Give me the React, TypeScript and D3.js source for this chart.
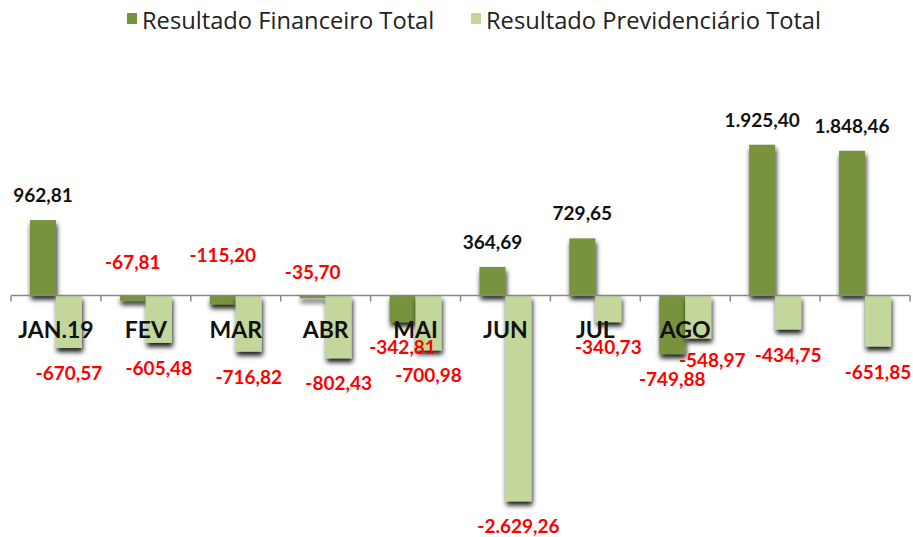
import React, { useEffect, useRef } from "react";
import * as d3 from "d3";

const categories = ["JAN.19", "FEV", "MAR", "ABR", "MAI", "JUN", "JUL", "AGO", "SET", "OUT"];
const categoryLabels = ["JAN.19", "FEV", "MAR", "ABR", "MAI", "JUN", "JUL", "AGO", "", ""];
const financeiro = [962.81, -67.81, -115.2, -35.7, -342.81, 364.69, 729.65, -749.88, 1925.4, 1848.46];
const previdenciario = [-670.57, -605.48, -716.82, -802.43, -700.98, -2629.26, -340.73, -548.97, -434.75, -651.85];
const seriesNames = ["Resultado Financeiro Total", "Resultado Previdenciário Total"];

// manual label nudges (Excel labels moved by hand): [dx, dy] in px
const finNudge: [number, number][] = [[0, 0], [0, -64], [0, -75], [0, -51], [0, 0], [0, 0], [0, 0], [0, 0], [0, 0], [0, 0]];
const prevNudge: [number, number][] = [[0, 0], [0, 0], [0, 0], [0, 0], [0, 0], [0, 0], [0, 0], [14, -3], [0, 0], [0, 0]];

const W = 913;
const H = 537;
const DARK = "#77933C";
const LIGHT = "#C3D69B";
const FONT = "Lato, 'Open Sans', sans-serif";

const ptBR = d3.formatLocale({
  decimal: ",",
  thousands: ".",
  grouping: [3],
  currency: ["R$", ""],
  minus: "-",
});
const fmt = ptBR.format(",.2f");

export default function App() {
  const ref = useRef<SVGSVGElement>(null);
  useEffect(() => {
    document.body.style.margin = "0";
    const svg = d3.select(ref.current);
    svg.selectAll("*").remove();

    const defs = svg.append("defs");
    const f = defs.append("filter").attr("id", "sh").attr("x", "-50%").attr("y", "-50%").attr("width", "200%").attr("height", "200%");
    f.append("feDropShadow").attr("dx", 1).attr("dy", 4).attr("stdDeviation", 2.5).attr("flood-color", "#000").attr("flood-opacity", 0.9);

    const x0 = d3.scaleBand<string>().domain(categories).range([11, 910]).paddingInner(0).paddingOuter(0);
    const x1 = d3.scaleBand<string>().domain(["fin", "prev"]).range([0, x0.bandwidth()]).paddingInner(0).paddingOuter(0.73);
    const y = d3.scaleLinear().domain([-3000, 2500]).range([530.4, 99.75]);

    const series = [
      { key: "fin", values: financeiro, color: DARK, nudge: finNudge },
      { key: "prev", values: previdenciario, color: LIGHT, nudge: prevNudge },
    ];

    const gBars = svg.append("g");
    series.forEach((s) => {
      gBars
        .append("g")
        .attr("filter", "url(#sh)")
        .selectAll("rect")
        .data(s.values)
        .join("rect")
        .attr("x", (_, i) => (x0(categories[i]) as number) + (x1(s.key) as number))
        .attr("width", x1.bandwidth())
        .attr("y", (d) => y(Math.max(0, d)))
        .attr("height", (d) => Math.abs(y(d) - y(0)))
        .attr("fill", s.color);
    });

    // axis
    const ax = svg.append("g");
    ax.append("line").attr("x1", 11).attr("x2", 910).attr("y1", y(0)).attr("y2", y(0)).attr("stroke", "#888").attr("stroke-width", 1.5);
    const tickXs = categories.map((c) => x0(c) as number).concat([910]);
    ax.selectAll("line.t")
      .data(tickXs)
      .join("line")
      .attr("class", "t")
      .attr("x1", (d) => d)
      .attr("x2", (d) => d)
      .attr("y1", y(0))
      .attr("y2", y(0) + 6)
      .attr("stroke", "#888")
      .attr("stroke-width", 1.5);

    // category labels
    svg.append("g")
      .selectAll("text")
      .data(categoryLabels)
      .join("text")
      .attr("x", (_, i) => (x0(categories[i]) as number) + x0.bandwidth() / 2)
      .attr("y", y(0) + 42)
      .attr("text-anchor", "middle")
      .attr("font-family", FONT)
      .attr("font-weight", "bold")
      .attr("font-size", 23)
      .attr("fill", "#111")
      .text((d) => d);

    // value labels
    series.forEach((s) => {
      svg.append("g")
        .selectAll("text")
        .data(s.values)
        .join("text")
        .attr("x", (_, i) => (x0(categories[i]) as number) + (x1(s.key) as number) + x1.bandwidth() / 2 + s.nudge[i][0])
        .attr("y", (d, i) => (d >= 0 ? y(d) - 25 : y(d) + 25) + 7 + s.nudge[i][1])
        .attr("text-anchor", "middle")
        .attr("font-family", FONT)
        .attr("font-weight", "bold")
        .attr("font-size", 19)
        .attr("fill", (d) => (d >= 0 ? "#111" : "#FF0000"))
        .text((d) => fmt(d));
    });

    // legend
    const lg = svg.append("g");
    const legendX = [127, 471];
    seriesNames.forEach((n, i) => {
      lg.append("rect").attr("x", legendX[i]).attr("y", 13).attr("width", 10).attr("height", 11).attr("fill", series[i].color);
      lg.append("text")
        .attr("x", legendX[i] + 15)
        .attr("y", 29)
        .attr("font-family", "'Open Sans', sans-serif")
        .attr("font-size", 23.7)
        .attr("fill", "#222")
        .text(n);
    });
  }, []);
  return <svg ref={ref} width={W} height={H} style={{ display: "block", background: "#fff" }} />;
}
